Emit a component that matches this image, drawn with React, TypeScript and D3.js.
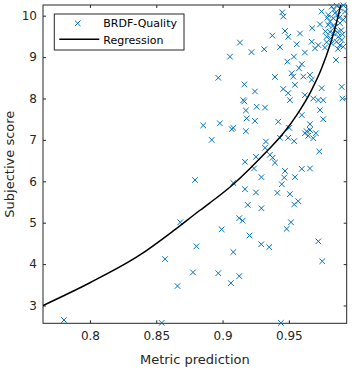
import React, { useEffect, useRef } from "react";
import * as d3 from "d3";

// scatter data: metric prediction vs subjective score
const metricPred = [
  0.7804, 0.8541, 0.8566, 0.866, 0.8681, 0.8777, 0.8803, 0.8792, 0.8854, 0.8918,
  0.8968, 0.898, 0.8968, 0.8993, 0.9056, 0.9069, 0.9081, 0.9063, 0.9081, 0.9081,
  0.9126, 0.9126, 0.9152, 0.9131, 0.9164, 0.9156, 0.9164, 0.9176, 0.9176, 0.9182,
  0.9169, 0.9169, 0.919, 0.9203, 0.9218, 0.9244, 0.9252, 0.9244, 0.9257, 0.9237,
  0.9252, 0.9293, 0.9293, 0.9292, 0.9314, 0.932, 0.9327, 0.932, 0.9352, 0.9357,
  0.9378, 0.9375, 0.9395, 0.9395, 0.942, 0.9413, 0.9433, 0.9433, 0.9446, 0.944,
  0.945, 0.9458, 0.9458, 0.9465, 0.9471, 0.9471, 0.9483, 0.9488, 0.9495, 0.9495,
  0.9503, 0.9495, 0.9508, 0.9508, 0.9516, 0.9521, 0.9533, 0.9538, 0.954, 0.954,
  0.9546, 0.9546, 0.9559, 0.9571, 0.9576, 0.9584, 0.9597, 0.9597, 0.9597, 0.9609,
  0.9621, 0.9621, 0.9621, 0.9634, 0.9646, 0.9659, 0.9659, 0.9659, 0.9659, 0.9672,
  0.9672, 0.9676, 0.9684, 0.9684, 0.9697, 0.9704, 0.9722, 0.9722, 0.9722, 0.9729,
  0.9735, 0.9735, 0.9747, 0.9747, 0.9752, 0.9759, 0.9759, 0.9772, 0.9785, 0.9785,
  0.9797, 0.9797, 0.981, 0.981, 0.9823, 0.9823, 0.9835, 0.9835, 0.9848, 0.9848,
  0.9855, 0.986, 0.986, 0.9873, 0.9873, 0.9885, 0.9885, 0.9885, 0.9898, 0.9898,
  0.9903, 0.991, 0.991, 0.9923, 0.9911, 0.979, 0.983, 0.9865, 0.988, 0.984,
  0.9895, 0.9815, 0.987, 0.9905, 0.9775,
];
const subjScore = [
  2.65, 2.58, 4.12, 3.47, 5.01, 3.8, 4.43, 6.03, 7.35, 7.0,
  8.5, 7.4, 3.78, 4.84, 9.01, 7.26, 7.29, 3.54, 4.29, 5.96,
  3.71, 5.11, 5.05, 9.35, 8.34, 7.96, 7.93, 7.71, 7.21, 7.52,
  6.47, 5.81, 5.43, 4.69, 9.12, 7.46, 6.59, 8.17, 7.8, 6.31,
  5.73, 6.1, 5.35, 4.48, 9.19, 7.78, 6.96, 6.81, 4.41, 6.64,
  6.57, 9.52, 6.45, 8.52, 7.44, 5.72, 9.24, 7.05, 5.93, 2.58,
  10.08, 9.98, 8.23, 6.09, 6.25, 9.63, 4.85, 8.89, 9.49, 8.13,
  7.29, 7.05, 7.96, 5.69, 5.01, 8.61, 8.53, 9.01, 6.97, 5.44,
  6.1, 8.33, 9.31, 5.52, 8.73, 9.57, 8.83, 7.6, 6.3, 8.53,
  9.11, 8.08, 7.16, 7.21, 7.1, 7.24, 7.38, 6.31, 8.57, 8.45,
  9.37, 9.7, 8.0, 7.04, 9.21, 7.16, 9.29, 7.96, 4.55, 6.72,
  9.79, 7.72, 10.1, 8.25, 4.07, 7.96, 7.5, 9.23, 9.36, 9.49,
  9.78, 10.02, 9.86, 9.61, 10.22, 9.33, 9.94, 9.57, 10.06, 9.73,
  8.93, 10.24, 9.37, 10.02, 9.49, 10.18, 9.82, 9.29, 9.41, 8.28,
  8.0, 9.9, 9.25, 10.1, 10.25, 9.95, 9.75, 9.6, 9.95, 10.15,
  9.65, 9.45, 9.2, 9.55, 9.62,
];

// regression curve
const regX = [0.7646, 0.8, 0.8377, 0.8628, 0.883, 0.8905, 0.9081, 0.9207, 0.9345, 0.9458, 0.9559, 0.9672, 0.9747, 0.981, 0.9855, 0.9891, 0.9915];
const regY = [3.0, 3.55, 4.22, 4.8, 5.3, 5.48, 5.93, 6.31, 6.76, 7.16, 7.6, 8.21, 8.73, 9.29, 9.78, 10.26, 10.64];

const xTicks = [0.8, 0.85, 0.9, 0.95];
const yTicks = [3, 4, 5, 6, 7, 8, 9, 10];
const legendLabels = ["BRDF-Quality", "Regression"];

const W = 352;
const H = 370;
const margin = { top: 5, right: 5.3, bottom: 46.7, left: 43 };
const blue = "#0072BD";
const axisCol = "#262626";
const font = "'DejaVu Sans', sans-serif";

export default function App() {
  const ref = useRef(null);

  useEffect(() => {
    const svg = d3.select(ref.current);
    svg.selectAll("*").remove();

    const w = W - margin.left - margin.right;
    const h = H - margin.top - margin.bottom;

    const x = d3.scaleLinear().domain([0.7646, 0.9936]).range([0, w]);
    const y = d3.scaleLinear().domain([2.57, 10.258]).range([h, 0]);

    svg.append("rect").attr("width", W).attr("height", H).attr("fill", "#fff");

    const g = svg.append("g").attr("transform", `translate(${margin.left},${margin.top})`);

    g.append("clipPath").attr("id", "plotclip")
      .append("rect").attr("width", w).attr("height", h);

    // axes - ticks point inward like matlab, mirrored on top/right
    const fmt = (d) => String(d);
    const bottom = g.append("g").attr("transform", `translate(0,${h})`)
      .call(d3.axisBottom(x).tickValues(xTicks).tickFormat(fmt).tickSizeInner(-3).tickSizeOuter(0).tickPadding(8));
    const top = g.append("g")
      .call(d3.axisTop(x).tickValues(xTicks).tickFormat(() => "").tickSizeInner(-3).tickSizeOuter(0));
    const left = g.append("g")
      .call(d3.axisLeft(y).tickValues(yTicks).tickFormat(fmt).tickSizeInner(-3).tickSizeOuter(0).tickPadding(6));
    const right = g.append("g").attr("transform", `translate(${w},0)`)
      .call(d3.axisRight(y).tickValues(yTicks).tickFormat(() => "").tickSizeInner(-3).tickSizeOuter(0));

    [bottom, top, left, right].forEach((ax) => {
      ax.select(".domain").remove();
      ax.selectAll("line").attr("stroke", axisCol);
      ax.selectAll("text").attr("fill", axisCol).style("font-family", font).style("font-size", "12px");
    });

    g.append("rect").attr("width", w).attr("height", h)
      .attr("fill", "none").attr("stroke", axisCol).attr("stroke-width", 1);

    // the x markers
    const pts = metricPred.map((m, i) => ({ m, s: subjScore[i] }));
    const cross = "M-2.8,-2.8L2.8,2.8M2.8,-2.8L-2.8,2.8";
    g.append("g").selectAll("path")
      .data(pts)
      .join("path")
      .attr("transform", (d) => `translate(${x(d.m)},${y(d.s)})`)
      .attr("d", cross)
      .attr("stroke", blue)
      .attr("stroke-width", 1)
      .attr("fill", "none");

    // regression
    const reg = regX.map((rx, i) => [rx, regY[i]]);
    const line = d3.line().x((d) => x(d[0])).y((d) => y(d[1])).curve(d3.curveMonotoneX);
    g.append("path")
      .attr("clip-path", "url(#plotclip)")
      .attr("d", line(reg))
      .attr("fill", "none")
      .attr("stroke", "#000")
      .attr("stroke-width", 1.5);

    // axis labels
    svg.append("text")
      .attr("x", margin.left + w / 2)
      .attr("y", 363.5)
      .attr("text-anchor", "middle")
      .attr("fill", axisCol)
      .style("font-family", font)
      .style("font-size", "13px")
      .text("Metric prediction");

    svg.append("text")
      .attr("transform", `translate(14.3,${margin.top + h / 2}) rotate(-90)`)
      .attr("text-anchor", "middle")
      .attr("fill", axisCol)
      .style("font-family", font)
      .style("font-size", "13px")
      .text("Subjective score");

    // legend box
    const lg = svg.append("g");
    lg.append("rect")
      .attr("x", 54.3).attr("y", 14).attr("width", 129.7).attr("height", 36)
      .attr("fill", "#fff").attr("stroke", axisCol).attr("stroke-width", 1);
    lg.append("path")
      .attr("transform", "translate(77.7,23.3)")
      .attr("d", cross)
      .attr("stroke", blue).attr("fill", "none");
    lg.append("line")
      .attr("x1", 59.3).attr("x2", 99.3).attr("y1", 39.3).attr("y2", 39.3)
      .attr("stroke", "#000").attr("stroke-width", 1.5);
    lg.selectAll("text.lbl")
      .data(legendLabels)
      .join("text")
      .attr("class", "lbl")
      .attr("x", 103.3)
      .attr("y", (d, i) => (i === 0 ? 27.3 : 44.3))
      .attr("fill", "#000")
      .style("font-family", font)
      .style("font-size", "11px")
      .text((d) => d);
  }, []);

  return (
    <svg ref={ref} width={W} height={H} style={{ position: "absolute", left: 0, top: 0 }} />
  );
}
